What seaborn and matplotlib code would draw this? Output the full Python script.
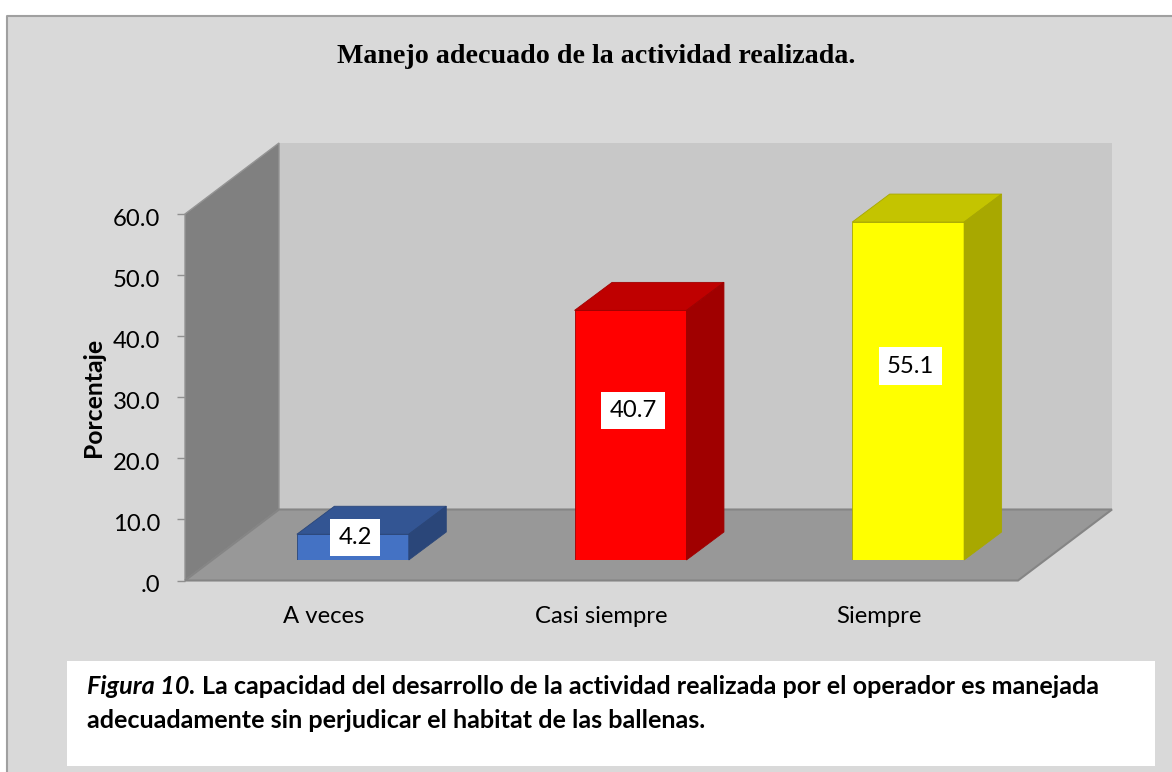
import matplotlib
matplotlib.use("Agg")
import matplotlib.pyplot as plt
from matplotlib.patches import Polygon, Rectangle
from matplotlib.transforms import IdentityTransform, ScaledTranslation
import seaborn as sns

categories = ["A veces", "Casi siempre", "Siempre"]
values = [4.2, 40.7, 55.1]
y_ticks = [0, 10, 20, 30, 40, 50, 60]
y_tick_labels = [".0", "10.0", "20.0", "30.0", "40.0", "50.0", "60.0"]

front_colors = ["#4472c4", "#ff0000", "#ffff00"]
top_colors = ["#335593", "#bf0000", "#c4c400"]
side_colors = ["#2a4679", "#a00000", "#a8a800"]
label_shift = [(2.5, 9.5), (2.5, 25), (2.5, 25)]

W, H = 1172, 772
WALL_DX, WALL_DY = 94, 71
BAR_DX, BAR_DY = 37.5, 28


def box(left, top, right, bottom):
    return [left / W, 1 - bottom / H, (right - left) / W, (bottom - top) / H]


sns.set_style("white")
plt.rcParams["font.family"] = ["Lato", "DejaVu Sans"]

fig = plt.figure(figsize=(W / 100, H / 100), dpi=100, facecolor="white")

# grey panel with the frame on the left and top only
fig.add_artist(Rectangle((6 / W, 0), 1, 1 - 16 / H, transform=fig.transFigure,
                         facecolor="#d9d9d9", edgecolor="none", zorder=-2))
fig.add_artist(plt.Line2D([6.5 / W, 6.5 / W, 1], [0, 1 - 16 / H, 1 - 16 / H],
                          color="#a0a0a0", lw=1.5, zorder=-1))

# main axes: scale, ticks and labels
ax = fig.add_axes(box(185, 214, 1018, 580.5))
ax.patch.set_visible(False)
sns.barplot(x=categories, y=[0, 0, 0], ax=ax, color="none")
ax.set_xlim(-0.5, 2.5)
ax.set_ylim(0, 60)
ax.set_yticks(y_ticks)
ax.set_yticklabels(y_tick_labels, fontsize=17.2, color="black")
ax.tick_params(axis="y", left=True, length=6, width=1, color="#909090", pad=12)
ax.tick_params(axis="x", bottom=False, labelsize=17.2, pad=15, labelcolor="black")
ax.set_ylabel("Porcentaje", fontsize=17.8, fontweight="bold", color="black", labelpad=0)
ax.yaxis.set_label_coords(-80 / 833, 0.5)
for s in ax.spines.values():
    s.set_visible(False)

# tick labels sit a bit below their ticks in the original
down = ScaledTranslation(0, -3.5 / 100, fig.dpi_scale_trans)
for lab in ax.get_yticklabels():
    lab.set_transform(lab.get_transform() + down)

# walls and floor, from the axes corners
(x0, y0), (x1, y1) = ax.transData.transform([(-0.5, 0), (2.5, 60)])
back = Polygon([(x0 + WALL_DX, y0 + WALL_DY), (x1 + WALL_DX, y0 + WALL_DY),
                (x1 + WALL_DX, y1 + WALL_DY), (x0 + WALL_DX, y1 + WALL_DY)],
               facecolor="#c8c8c8", edgecolor="none")
wall = Polygon([(x0, y0), (x0 + WALL_DX, y0 + WALL_DY),
                (x0 + WALL_DX, y1 + WALL_DY), (x0, y1)],
               facecolor="#808080", edgecolor="#949494", lw=1)
floor = Polygon([(x0, y0), (x1, y0), (x1 + WALL_DX, y0 + WALL_DY), (x0 + WALL_DX, y0 + WALL_DY)],
                facecolor="#989898", edgecolor="#858585", lw=1.5)
for p in [back, wall, floor]:
    p.set_transform(IdentityTransform())
    p.set_clip_on(False)
    ax.add_patch(p)

# bars sit a little inside the floor, so they get their own shifted axes
ax_bars = fig.add_axes(box(214, 192, 1047, 560))
ax_bars.patch.set_visible(False)
sns.barplot(x=categories, y=values, hue=categories, palette=front_colors, saturation=1,
            width=0.403, legend=False, ax=ax_bars)
ax_bars.set_xlim(-0.5, 2.5)
ax_bars.set_ylim(0, 60)
ax_bars.axis("off")

for bar, top_c, side_c, val, shift in zip(ax_bars.patches, top_colors, side_colors, values, label_shift):
    bar.set_edgecolor(side_c)
    bar.set_linewidth(0.6)
    (bx0, by0), (bx1, by1) = ax_bars.transData.transform(
        [(bar.get_x(), 0), (bar.get_x() + bar.get_width(), bar.get_height())])
    top = Polygon([(bx0, by1), (bx1, by1), (bx1 + BAR_DX, by1 + BAR_DY), (bx0 + BAR_DX, by1 + BAR_DY)],
                  facecolor=top_c, edgecolor=side_c, lw=0.6)
    side = Polygon([(bx1, by0), (bx1 + BAR_DX, by0 + BAR_DY), (bx1 + BAR_DX, by1 + BAR_DY), (bx1, by1)],
                   facecolor=side_c, edgecolor=side_c, lw=0.6)
    for p in [top, side]:
        p.set_transform(IdentityTransform())
        p.set_clip_on(False)
        ax_bars.add_patch(p)
    ax_bars.annotate(f"{val:.1f}", (bar.get_x() + bar.get_width() / 2, val / 2),
                     xytext=(shift[0] * 0.72, shift[1] * 0.72), textcoords="offset points",
                     ha="center", va="center", fontsize=17.2, color="black", zorder=10,
                     annotation_clip=False,
                     bbox=dict(boxstyle="square,pad=0.34", facecolor="white", edgecolor="none"))

# title
fig.text(596 / W, 1 - 63 / H, "Manejo adecuado de la actividad realizada.", ha="center", va="baseline",
         fontsize=20.2, fontweight="bold", family="Liberation Serif", color="black")

# caption box
fig.add_artist(Rectangle((67 / W, 1 - 766 / H), 1088 / W, 105 / H, transform=fig.transFigure,
                         facecolor="white", edgecolor="none", zorder=-1))
cap_a = fig.text(87 / W, 1 - 694 / H, "Figura 10.", fontsize=18.1, fontweight="bold", style="italic",
                 color="black", va="baseline")
fig.canvas.draw()
end_x = cap_a.get_window_extent().x1
fig.text((end_x + 6) / W, 1 - 694 / H,
         "La capacidad del desarrollo de la actividad realizada por el operador es manejada",
         fontsize=18.1, fontweight="bold", color="black", va="baseline")
fig.text(87 / W, 1 - 728 / H,
         "adecuadamente sin perjudicar el habitat de las ballenas.",
         fontsize=18.1, fontweight="bold", color="black", va="baseline")

fig.savefig("out.png", dpi=100)
